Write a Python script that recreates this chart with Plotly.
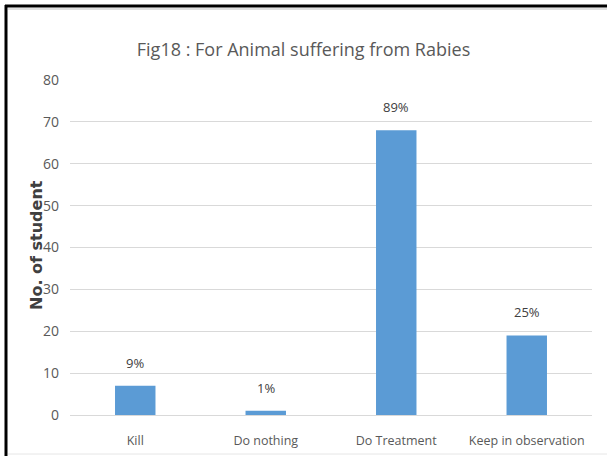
import plotly.graph_objects as go

categories = ["Kill", "Do nothing", "Do Treatment", "Keep in observation"]
students = [7, 1, 68, 19]
percent_labels = ["9%", "1%", "89%", "25%"]
y_ticks = [0, 10, 20, 30, 40, 50, 60, 70, 80]

W, H = 607, 456
ml, mr, mt, mb = 70, 15, 80, 41
pw, ph = W - ml - mr, H - mt - mb

def px_x(x):
    return (x - ml) / pw

def px_y(y):
    return (H - mb - y) / ph

font_fam = "Open Sans, sans-serif"

fig = go.Figure(go.Bar(
    x=categories, y=students,
    marker=dict(color="#5B9BD5", line=dict(width=0)),
    hoverinfo="x+y",
))

for cat, val, lab in zip(categories, students, percent_labels):
    fig.add_annotation(x=cat, y=val, text=lab, showarrow=False,
                       xanchor="center", yanchor="middle", yshift=23,
                       font=dict(family=font_fam, size=13, color="#404040"))

fig.update_layout(
    width=W, height=H,
    margin=dict(l=ml, r=mr, t=mt, b=mb, autoexpand=False),
    paper_bgcolor="white", plot_bgcolor="white",
    bargap=0.69,
    showlegend=False,
    title=dict(text="Fig18 : For Animal suffering from Rabies",
               x=0.5, xanchor="center", y=1 - 50 / H, yanchor="middle",
               font=dict(family=font_fam, size=18, color="#595959")),
    font=dict(family=font_fam, color="#595959"),
    xaxis=dict(showgrid=False, showline=False, ticks="", zeroline=False,
               automargin=False, ticklabelstandoff=16,
               tickfont=dict(family=font_fam, size=12.5, color="#595959")),
    yaxis=dict(range=[0, 80], tickvals=y_ticks, showgrid=True,
               gridcolor="#D9D9D9", gridwidth=1, zeroline=True,
               zerolinecolor="#D9D9D9", zerolinewidth=1, showline=False,
               automargin=False, ticks="", ticklabelstandoff=10,
               tickfont=dict(family=font_fam, size=14, color="#595959")),
)

fig.add_annotation(text="<b>No. of student</b>", xref="paper", yref="paper",
                   x=px_x(36), y=px_y(245), textangle=-90, showarrow=False,
                   xanchor="center", yanchor="middle",
                   font=dict(family="DejaVu Sans, Verdana, sans-serif",
                             size=16, color="#404040"))

# frame around the image (top and left black edges, faint bottom line)
fig.add_shape(type="line", xref="paper", yref="paper",
              x0=px_x(5), x1=px_x(W), y0=px_y(6), y1=px_y(6),
              line=dict(color="black", width=3))
fig.add_shape(type="line", xref="paper", yref="paper",
              x0=px_x(6), x1=px_x(6), y0=px_y(5), y1=px_y(H),
              line=dict(color="black", width=3))
fig.add_shape(type="line", xref="paper", yref="paper",
              x0=px_x(8), x1=px_x(W), y0=px_y(9), y1=px_y(9),
              line=dict(color="#E0E0E0", width=2))
fig.add_shape(type="line", xref="paper", yref="paper",
              x0=px_x(8), x1=px_x(W), y0=px_y(454), y1=px_y(454),
              line=dict(color="#E6E6E6", width=1))

fig.write_html("out.html", config={"displayModeBar": False},
               post_script="document.body.style.margin='0';document.body.style.padding='0';")
